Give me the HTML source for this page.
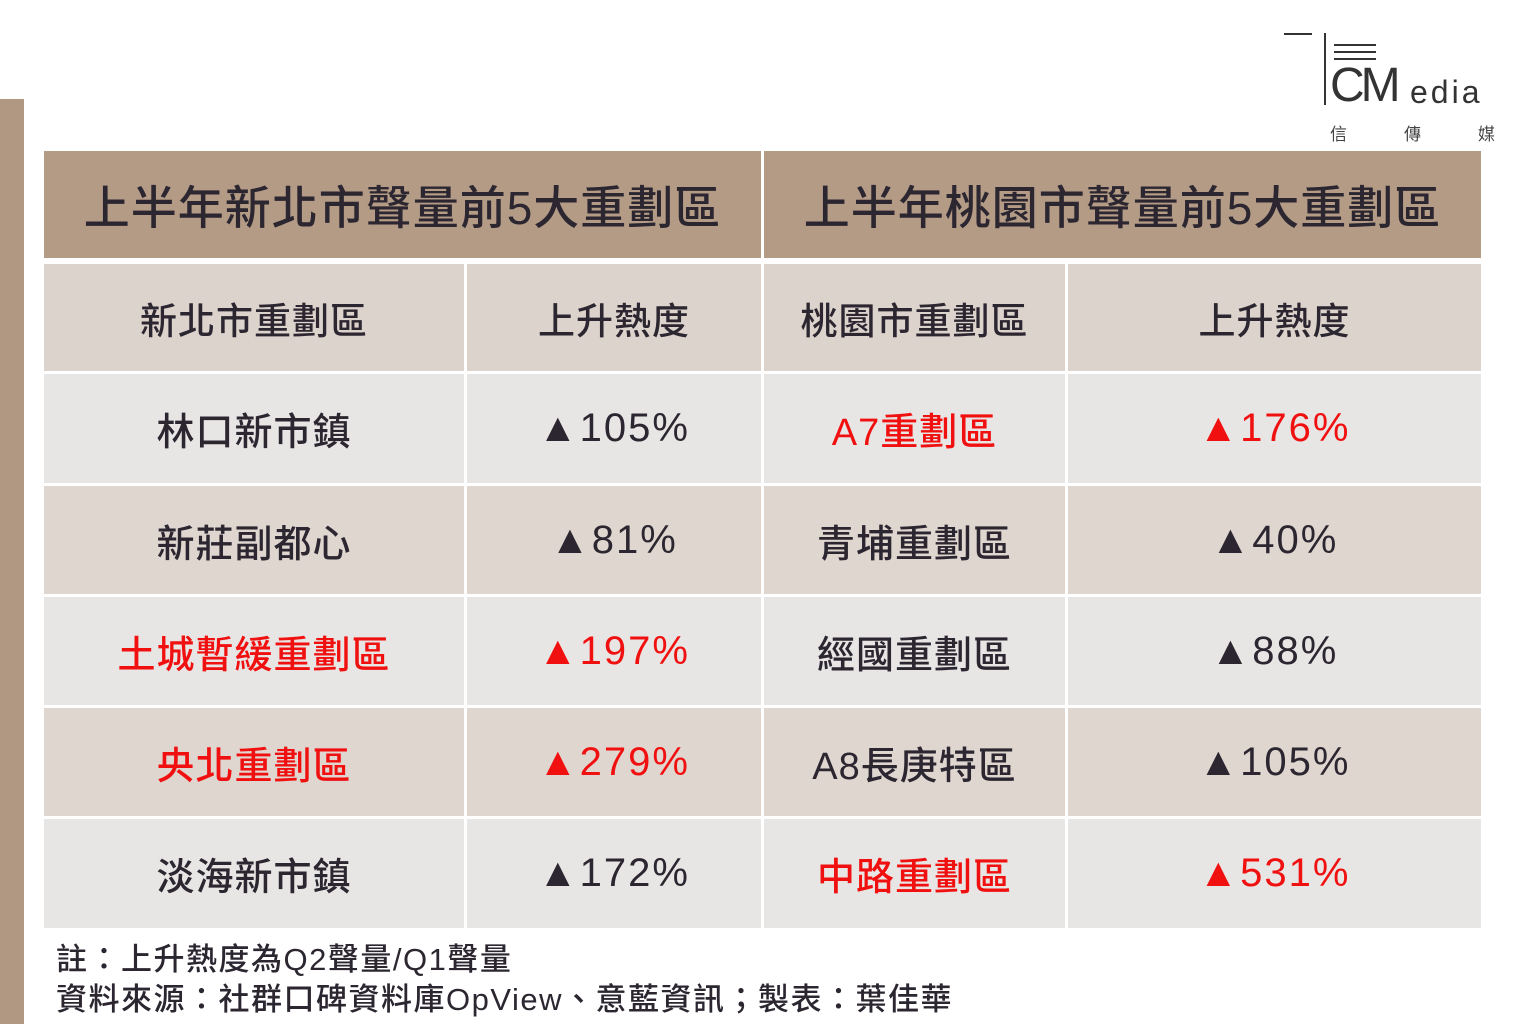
<!DOCTYPE html>
<html><head><meta charset="utf-8">
<style>
body{margin:0;width:1536px;height:1024px;background:#fff;position:relative;overflow:hidden;font-family:"Liberation Sans","Noto Sans CJK TC",sans-serif;color:#2b2630}
.c{position:absolute;display:flex;align-items:center;justify-content:center;white-space:nowrap;font-weight:500}
.h{background:#b39b86;font-size:46px;letter-spacing:1px}
.s{background:#ddd3cd;font-size:37px;letter-spacing:1px}
.g{background:#e8e6e5;font-size:38px;letter-spacing:1px}
.b{background:#dfd6d0;font-size:38px;letter-spacing:1px}
.p{font-size:40px;letter-spacing:2px}
.r{color:#f01010}
.n{position:absolute;left:56px;font-size:31px;white-space:nowrap;color:#2b2630;font-weight:500;letter-spacing:1.5px}
</style></head><body>
<div style="position:absolute;left:0;top:99px;width:24px;height:925px;background:#b09883"></div>
<!-- logo -->
<div style="position:absolute;left:1284px;top:33px;width:28px;height:2px;background:#333"></div>
<div style="position:absolute;left:1324px;top:33px;width:2px;height:72px;background:#333"></div>
<div style="position:absolute;left:1334px;top:44px;width:42px;height:2px;background:#333"></div>
<div style="position:absolute;left:1334px;top:51px;width:42px;height:2px;background:#333"></div>
<div style="position:absolute;left:1334px;top:58px;width:42px;height:2px;background:#333"></div>
<div style="position:absolute;left:1330px;top:58px;font-family:'Liberation Sans',sans-serif;font-size:48px;font-weight:300;color:#333;letter-spacing:-4px">CM</div>
<div style="position:absolute;left:1410px;top:74px;font-size:32px;color:#333;letter-spacing:3px">edia</div>
<div style="position:absolute;left:1330px;top:120px;font-size:17px;color:#444;width:165px;display:flex;justify-content:space-between"><span>信</span><span>傳</span><span>媒</span></div>

<div class="c h" style="left:44px;top:151px;width:717px;height:107px">上半年新北市聲量前5大重劃區</div>
<div class="c h" style="left:764px;top:151px;width:717px;height:107px">上半年桃園市聲量前5大重劃區</div>

<div class="c s" style="left:44px;top:264px;width:420px;height:107px">新北市重劃區</div>
<div class="c s" style="left:467px;top:264px;width:294px;height:107px">上升熱度</div>
<div class="c s" style="left:764px;top:264px;width:301px;height:107px">桃園市重劃區</div>
<div class="c s" style="left:1068px;top:264px;width:413px;height:107px">上升熱度</div>

<div class="c g" style="left:44px;top:374px;width:420px;height:109px">林口新市鎮</div>
<div class="c g p" style="left:467px;top:374px;width:294px;height:109px">▲105%</div>
<div class="c g r" style="left:764px;top:374px;width:301px;height:109px">A7重劃區</div>
<div class="c g r p" style="left:1068px;top:374px;width:413px;height:109px">▲176%</div>

<div class="c b" style="left:44px;top:486px;width:420px;height:108px">新莊副都心</div>
<div class="c b p" style="left:467px;top:486px;width:294px;height:108px">▲81%</div>
<div class="c b" style="left:764px;top:486px;width:301px;height:108px">青埔重劃區</div>
<div class="c b p" style="left:1068px;top:486px;width:413px;height:108px">▲40%</div>

<div class="c g r" style="left:44px;top:597px;width:420px;height:108px">土城暫緩重劃區</div>
<div class="c g r p" style="left:467px;top:597px;width:294px;height:108px">▲197%</div>
<div class="c g" style="left:764px;top:597px;width:301px;height:108px">經國重劃區</div>
<div class="c g p" style="left:1068px;top:597px;width:413px;height:108px">▲88%</div>

<div class="c b r" style="left:44px;top:708px;width:420px;height:108px">央北重劃區</div>
<div class="c b r p" style="left:467px;top:708px;width:294px;height:108px">▲279%</div>
<div class="c b" style="left:764px;top:708px;width:301px;height:108px">A8長庚特區</div>
<div class="c b p" style="left:1068px;top:708px;width:413px;height:108px">▲105%</div>

<div class="c g" style="left:44px;top:819px;width:420px;height:109px">淡海新市鎮</div>
<div class="c g p" style="left:467px;top:819px;width:294px;height:109px">▲172%</div>
<div class="c g r" style="left:764px;top:819px;width:301px;height:109px">中路重劃區</div>
<div class="c g r p" style="left:1068px;top:819px;width:413px;height:109px">▲531%</div>

<div class="n" style="top:934px">註：上升熱度為Q2聲量/Q1聲量</div>
<div class="n" style="top:974px">資料來源：社群口碑資料庫OpView、意藍資訊；製表：葉佳華</div>
</body></html>
